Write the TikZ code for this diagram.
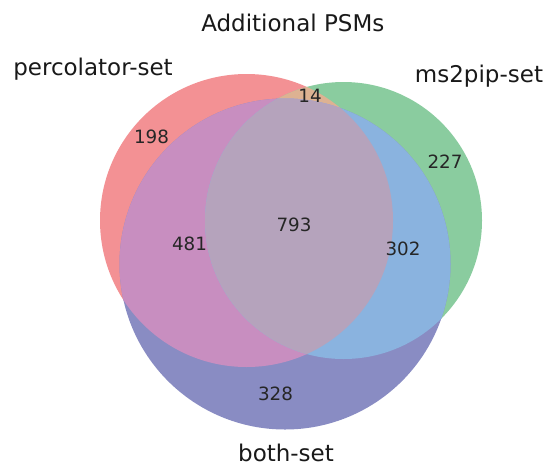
\documentclass[tikz,border=0pt]{standalone}
\usepackage{fontspec}
\setmainfont{DejaVu Sans}
\usepackage{xcolor}
\usepackage{tikz}
\definecolor{percOnly}{HTML}{F39194}
\definecolor{msOnly}{HTML}{8ACC9F}
\definecolor{bothOnly}{HTML}{898CC3}
\definecolor{percMs}{HTML}{DDB292}
\definecolor{percBoth}{HTML}{C88EC0}
\definecolor{msBoth}{HTML}{8AB3DF}
\definecolor{allThree}{HTML}{B5A3BC}
\tikzset{
    setlabel/.style={font=\fontsize{23}{27}\selectfont, text=black!90,
                     inner sep=0pt, anchor=base},
    count/.style={font=\fontsize{18.3}{22}\selectfont, text=black!85,
                  inner sep=0pt}
}
\def\rperc{146.5pt}
\def\rms{138.5pt}
\def\rboth{165.5pt}

\begin{document}
\begin{tikzpicture}[x=1pt, y=-1pt]
\useasboundingbox (0,0) rectangle (545,466);

% ── Set centres ───────────────────────────────────────────────────────
\coordinate (perc) at (246.5,220.5);
\coordinate (ms2)  at (343.5,220.5);
\coordinate (both) at (285,264);

% ── Single sets ───────────────────────────────────────────────────────
\fill[percOnly] (perc) circle[radius=\rperc];
\fill[msOnly]   (ms2)  circle[radius=\rms];
\fill[bothOnly] (both) circle[radius=\rboth];

% ── Pairwise overlaps ─────────────────────────────────────────────────
\begin{scope}
  \clip (perc) circle[radius=\rperc];
  \fill[percMs]   (ms2)  circle[radius=\rms];
  \fill[percBoth] (both) circle[radius=\rboth];
\end{scope}
\begin{scope}
  \clip (ms2) circle[radius=\rms];
  \fill[msBoth] (both) circle[radius=\rboth];
  % ── Triple overlap ──
  \clip (perc) circle[radius=\rperc];
  \fill[allThree] (both) circle[radius=\rboth];
\end{scope}

% ── Title and set names ───────────────────────────────────────────────
\node[setlabel] at (292.8,31.7) (title) {Additional PSMs};
\node[setlabel] at (93,75.3)    (percname) {percolator-set};
\node[setlabel] at (479,82.7)   (msname)   {ms2pip-set};
\node[setlabel] at (286,461.7)  (bothname) {both-set};

% ── Region counts ─────────────────────────────────────────────────────
\node[count] at (151.5,136.5) (nperc)   {198};
\node[count] at (310,96)      (npercms) {14};
\node[count] at (445,161.5)   (nms)     {227};
\node[count] at (294,225)     (nall)    {793};
\node[count] at (189.5,244)   (npercb)  {481};
\node[count] at (403,248.5)   (nmsb)    {302};
\node[count] at (275.5,393.5) (nboth)   {328};
\end{tikzpicture}
\end{document}
